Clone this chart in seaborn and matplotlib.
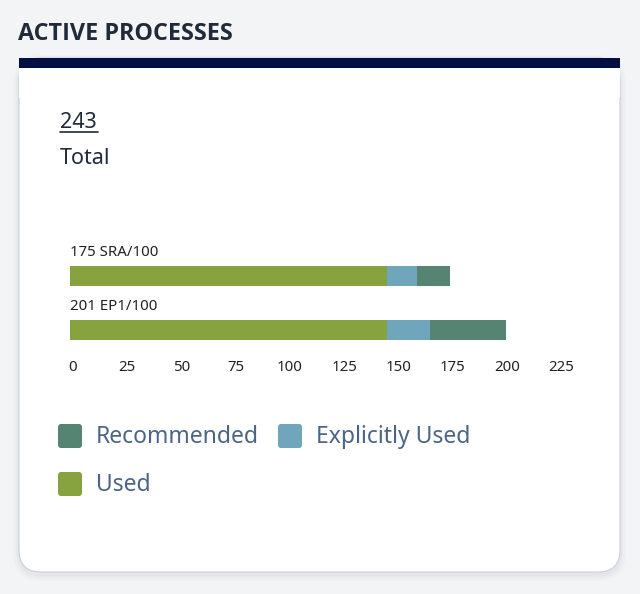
import matplotlib
matplotlib.use("Agg")
import matplotlib.pyplot as plt
import seaborn as sns
import pandas as pd
import numpy as np
from matplotlib.patches import FancyBboxPatch, Rectangle
from matplotlib.lines import Line2D
from matplotlib.transforms import Affine2D, ScaledTranslation

# ---- data ----
categories = ["SRA/100", "EP1/100"]
used = [146, 146]
explicitly_used = [14, 20]
recommended = [15, 35]
series_names = ["Recommended", "Explicitly Used", "Used"]
x_ticks = [0, 25, 50, 75, 100, 125, 150, 175, 200, 225]
total_value = 243

C_USED = "#86a33f"
C_EXPL = "#6fa6bc"
C_REC = "#558572"
TXT = "#1f2a3a"
LEG_TXT = "#4b6584"

sns.set_theme(style="white")
plt.rcParams["font.family"] = ["Noto Sans", "DejaVu Sans"]

W, H = 640, 594
fig = plt.figure(figsize=(W / 100, H / 100), dpi=100)
fig.patch.set_facecolor("#f3f4f6")
px = Affine2D().scale(1, -1).translate(0, H).scale(1 / 100) + fig.dpi_scale_trans


def fx(x):
    return x / W


def fy(y):
    return 1 - y / H


# card shadow
for i, a in enumerate([0.025, 0.03, 0.035, 0.04]):
    e = 6 - i * 1.5
    fig.add_artist(FancyBboxPatch((19 - e, 58 - e + 3), 601 + 2 * e, 514 + 2 * e,
                                  boxstyle="round,pad=0,rounding_size=%f" % (22 + e),
                                  transform=px, facecolor="#8a94a6", edgecolor="none",
                                  alpha=a, zorder=0))
# card
fig.add_artist(FancyBboxPatch((19, 58), 601, 514, boxstyle="round,pad=0,rounding_size=22",
                              transform=px, facecolor="white", edgecolor="#c9ced6",
                              linewidth=0.8, zorder=1))
fig.add_artist(Rectangle((18.6, 58), 601.8, 40, transform=px, facecolor="white",
                         edgecolor="none", zorder=1.5))
fig.add_artist(Rectangle((19, 58), 601, 9.5, transform=px, facecolor="#020f40",
                         edgecolor="none", zorder=2))

# header texts
fig.text(fx(18), fy(34), "ACTIVE PROCESSES", fontsize=16.8, fontweight="bold",
         family=["Open Sans", "DejaVu Sans"], color=TXT, va="center", ha="left", zorder=3)
fig.text(fx(60), fy(122), str(total_value), fontsize=15.5, color=TXT,
         va="center", ha="left", zorder=3)
fig.add_artist(Line2D([60, 98], [132, 132], transform=px, color=TXT, lw=1.2, zorder=3))
fig.text(fx(60), fy(158), "Total", fontsize=15.5, color=TXT, va="center", ha="left", zorder=3)

# ---- bars ----
df = pd.DataFrame({
    "category": categories,
    "used": used,
    "explicit": explicitly_used,
    "recommended": recommended,
})
df["cum_expl"] = df["used"] + df["explicit"]
df["total"] = df["cum_expl"] + df["recommended"]

ax = fig.add_axes([fx(70), fy(350), (558 - 70) / W, (350 - 240) / H], zorder=4)
ax.patch.set_alpha(0)
bw = 20 / 54
sns.barplot(data=df, x="total", y="category", color=C_REC, width=bw, ax=ax,
            orient="h", saturation=1, linewidth=0)
sns.barplot(data=df, x="cum_expl", y="category", color=C_EXPL, width=bw, ax=ax,
            orient="h", saturation=1, linewidth=0)
sns.barplot(data=df, x="used", y="category", color=C_USED, width=bw, ax=ax,
            orient="h", saturation=1, linewidth=0)

for i, row in df.iterrows():
    ax.annotate(f"{row['total']} {row['category']}", xy=(0, i - bw / 2),
                xytext=(0, 4), textcoords="offset points", ha="left", va="bottom",
                fontsize=10.8, color="#222222")

ax.set_xlim(0, 225)
ax.set_ylim(1 + 20 / 54, -36 / 54)
ax.set_xticks(x_ticks)
ax.set_xticklabels([str(t) for t in x_ticks], fontsize=10.8, color="#222222")
ax.tick_params(axis="x", length=0, pad=7)
shift = ScaledTranslation(3 / 100, 0, fig.dpi_scale_trans)
for lab in ax.get_xticklabels():
    lab.set_transform(lab.get_transform() + shift)
ax.set_yticks([])
ax.set_xlabel("")
ax.set_ylabel("")
for s in ax.spines.values():
    s.set_visible(False)

# ---- legend ----
leg_items = [("Recommended", C_REC, 58, 436), ("Explicitly Used", C_EXPL, 278, 436),
             ("Used", C_USED, 58, 484)]
for name, col, x0, yc in leg_items:
    fig.add_artist(FancyBboxPatch((x0, yc - 12), 24, 24,
                                  boxstyle="round,pad=0,rounding_size=3", transform=px,
                                  facecolor=col, edgecolor="none", zorder=3))
    fig.text(fx(x0 + 38), fy(yc + 1), name, fontsize=16.5, color=LEG_TXT,
             va="center", ha="left", zorder=3)

fig.savefig("out.png", dpi=100)
